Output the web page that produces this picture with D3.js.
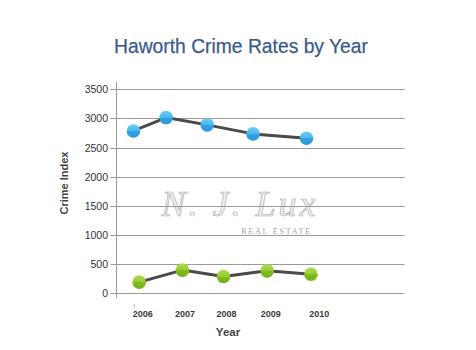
<!DOCTYPE html>
<html>
<head>
<meta charset="utf-8">
<script src="https://cdn.jsdelivr.net/npm/d3@7"></script>
<style>
  html, body { margin: 0; padding: 0; background: #fff; }
  svg { display: block; }
</style>
</head>
<body>
<svg id="chart" width="476" height="350"></svg>
<script>
// ---- data ----
const title = "Haworth Crime Rates by Year";
const yAxisTitle = "Crime Index";
const xAxisTitle = "Year";
const categories = ["2006", "2007", "2008", "2009", "2010"];
// category label positions on the year axis (as drawn in the original)
const categoryPos = [2006, 2006.96, 2007.9, 2008.9, 2010];
// series (x positions in year units as placed in the original chart)
const seriesAX = [2005.79, 2006.53, 2007.46, 2008.50, 2009.71];
const seriesAValues = [2785, 3015, 2890, 2735, 2660];
const seriesBX = [2005.92, 2006.90, 2007.83, 2008.82, 2009.81];
const seriesBValues = [192, 398, 288, 385, 328];
const yTicks = [0, 500, 1000, 1500, 2000, 2500, 3000, 3500];

// ---- layout ----
const svg = d3.select("#chart");
const plotLeft = 116.5, plotRight = 404.5, plotTop = 89.3, plotBottom = 293.3;

const y = d3.scaleLinear().domain([0, 3500]).range([plotBottom, plotTop]);
const x = d3.scaleLinear().domain([2006, 2010]).range([142.7, 319.3]);

const defs = svg.append("defs");
function halfGrad(id, top, bottom) {
  const g = defs.append("linearGradient").attr("id", id)
    .attr("x1", 0).attr("y1", 0).attr("x2", 0).attr("y2", 1);
  g.append("stop").attr("offset", "0%").attr("stop-color", top[0]);
  g.append("stop").attr("offset", "50%").attr("stop-color", top[1]);
  g.append("stop").attr("offset", "50%").attr("stop-color", bottom[0]);
  g.append("stop").attr("offset", "100%").attr("stop-color", bottom[1]);
}
halfGrad("gBlue", ["#6cccf4", "#4ab7ec"], ["#33a3e2", "#2b97d8"]);
halfGrad("gGreen", ["#addb52", "#97cc34"], ["#80bd1c", "#74b012"]);

// title
svg.append("text")
  .attr("x", 241).attr("y", 52.5)
  .attr("text-anchor", "middle")
  .attr("font-family", "Liberation Sans, Arial, sans-serif")
  .attr("font-size", 19.3)
  .attr("fill", "#3b5b8c")
  .attr("stroke", "#3b5b8c")
  .attr("stroke-width", 0.25)
  .text(title);

// watermark
const wm = svg.append("g").attr("opacity", 0.9);
wm.append("text")
  .attr("x", 240).attr("y", 216)
  .attr("text-anchor", "middle")
  .attr("font-family", "Liberation Serif, DejaVu Serif, serif")
  .attr("font-style", "italic")
  .attr("font-size", 36)
  .attr("letter-spacing", 3)
  .attr("fill", "#efefef")
  .attr("stroke", "#a8a8a8")
  .attr("stroke-width", 0.7)
  .text("N. J. Lux");
wm.append("text")
  .attr("x", 276.5).attr("y", 233.5)
  .attr("text-anchor", "middle")
  .attr("font-family", "Liberation Serif, DejaVu Serif, serif")
  .attr("font-size", 8)
  .attr("letter-spacing", 1.8)
  .attr("fill", "#9a9a9a")
  .text("REAL ESTATE");

// gridlines
svg.append("g").selectAll("line").data(yTicks).join("line")
  .attr("x1", plotLeft - 6).attr("x2", plotRight)
  .attr("y1", d => Math.round(y(d)) + 0.5).attr("y2", d => Math.round(y(d)) + 0.5)
  .attr("stroke", "#9a9a9a").attr("stroke-width", 1);

// y axis line
svg.append("line")
  .attr("x1", plotLeft).attr("x2", plotLeft)
  .attr("y1", 82).attr("y2", 298)
  .attr("stroke", "#9a9a9a").attr("stroke-width", 1);

// y tick labels
svg.append("g").selectAll("text").data(yTicks).join("text")
  .attr("x", 108).attr("y", d => y(d) + 4)
  .attr("text-anchor", "end")
  .attr("font-family", "Liberation Sans, Arial, sans-serif")
  .attr("font-size", 10.5)
  .attr("fill", "#333")
  .text(d => d);

// x tick labels
svg.append("g").selectAll("text").data(categories).join("text")
  .attr("x", (d, i) => x(categoryPos[i])).attr("y", 317)
  .attr("text-anchor", "middle")
  .attr("font-family", "Liberation Sans, Arial, sans-serif")
  .attr("font-size", 9)
  .attr("font-weight", "bold")
  .attr("fill", "#3a3a3a")
  .text(d => d);

// small tick mark under first category
svg.append("line")
  .attr("x1", 134.5).attr("x2", 134.5).attr("y1", 304).attr("y2", 308)
  .attr("stroke", "#ccc");

// axis titles
svg.append("text")
  .attr("transform", "translate(68,183) rotate(-90)")
  .attr("text-anchor", "middle")
  .attr("font-family", "Liberation Sans, Arial, sans-serif")
  .attr("font-size", 11)
  .attr("font-weight", "bold")
  .attr("fill", "#444")
  .text(yAxisTitle);
svg.append("text")
  .attr("x", 228).attr("y", 335.5)
  .attr("text-anchor", "middle")
  .attr("font-family", "Liberation Sans, Arial, sans-serif")
  .attr("font-size", 11.5)
  .attr("font-weight", "bold")
  .attr("fill", "#444")
  .text(xAxisTitle);

// series
function drawSeries(xs, vals, grad) {
  const pts = xs.map((xv, i) => [x(xv), y(vals[i])]);
  svg.append("path")
    .attr("d", d3.line()(pts))
    .attr("fill", "none")
    .attr("stroke", "#4a4a4a")
    .attr("stroke-width", 3)
    .attr("stroke-linejoin", "round");
  svg.append("g").selectAll("circle").data(pts).join("circle")
    .attr("cx", d => d[0]).attr("cy", d => d[1])
    .attr("r", 6.8)
    .attr("fill", `url(#${grad})`);
}
drawSeries(seriesAX, seriesAValues, "gBlue");
drawSeries(seriesBX, seriesBValues, "gGreen");
</script>
</body>
</html>
